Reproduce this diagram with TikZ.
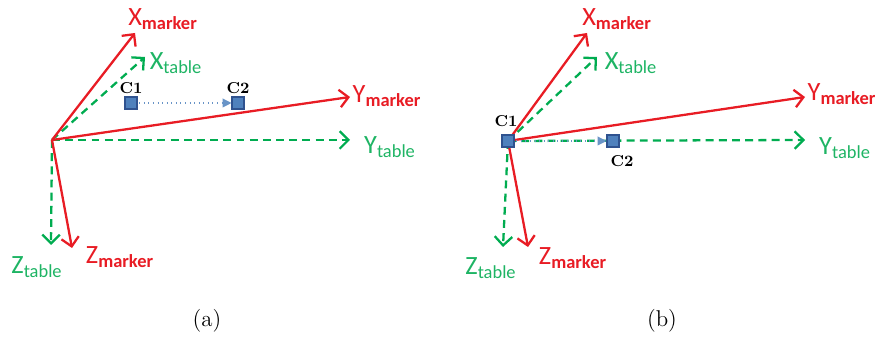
\documentclass[tikz,border=0pt]{standalone}
\usepackage{fontspec}
\usepackage{tikz}
\usetikzlibrary{arrows.meta}
\newfontfamily\axfont{Carlito}
\definecolor{axred}{RGB}{232, 28, 36}
\definecolor{axgreen}{RGB}{0, 172, 80}
\definecolor{txgreen}{RGB}{30, 180, 100}
\definecolor{ptblue}{RGB}{79, 129, 189}
\definecolor{ptedge}{RGB}{47, 82, 143}

\begin{document}
\begin{tikzpicture}[
    markerax/.style={-{Straight Barb[length=5pt, width=10pt]}, line width=1.3pt, axred},
    tableax/.style={-{Straight Barb[length=5pt, width=10pt]}, line width=1.3pt, axgreen, dash pattern=on 4.5pt off 3pt},
    point/.style={rectangle, draw=ptedge, fill=ptblue, line width=0.6pt, minimum size=0.24cm, inner sep=0pt},
    move/.style={-{Triangle[length=5pt, width=5pt]}, line width=0.6pt, ptblue!85, dotted, shorten <=1pt},
    mlabel/.style={text=axred, font=\axfont\fontsize{15}{16}\selectfont},
    tlabel/.style={text=txgreen, font=\axfont\fontsize{15}{16}\selectfont},
    plabel/.style={font=\fontsize{9}{10}\selectfont\bfseries},
    caption/.style={font=\fontsize{13}{15}\selectfont}
]
\useasboundingbox (0,0) rectangle (17.52,6.82);

% Panel (a) -- frame origin apart from C1
\coordinate (oa) at (1.04, 4.02);
\coordinate (xma) at (2.70, 6.16);
\coordinate (xta) at (2.90, 5.68);
\coordinate (yma) at (7.00, 4.88);
\coordinate (yta) at (7.00, 4.02);
\coordinate (zta) at (1.02, 1.92);
\coordinate (zma) at (1.44, 1.86);

\node[mlabel] (lxma) at (3.26, 6.44) {X\textsubscript{\bfseries marker}};
\node[tlabel] (lxta) at (3.52, 5.56) {X\textsubscript{table}};
\node[mlabel] (lyma) at (7.74, 4.90) {Y\textsubscript{\bfseries marker}};
\node[tlabel] (lyta) at (7.80, 3.88) {Y\textsubscript{table}};
\node[tlabel] (lzta) at (0.74, 1.48) {Z\textsubscript{table}};
\node[mlabel] (lzma) at (2.40, 1.68) {Z\textsubscript{\bfseries marker}};

\node[point] (c1a) at (2.62, 4.76) {};
\node[point] (c2a) at (4.76, 4.76) {};
\node[plabel] at (2.62, 5.06) {C1};
\node[plabel] at (4.76, 5.06) {C2};
\draw[move] (c1a) -- (c2a);

\node[caption] (capa) at (4.14, 0.40) {(a)};

% Panel (b) -- frame origin at C1
\coordinate (ob) at (10.16, 4.00);
\coordinate (xmb) at (11.74, 6.16);
\coordinate (xtb) at (11.94, 5.68);
\coordinate (ymb) at (16.10, 4.88);
\coordinate (ytb) at (16.10, 4.02);
\coordinate (ztb) at (10.06, 1.88);
\coordinate (zmb) at (10.56, 1.88);

\node[mlabel] (lxmb) at (12.34, 6.44) {X\textsubscript{\bfseries marker}};
\node[tlabel] (lxtb) at (12.62, 5.56) {X\textsubscript{table}};
\node[mlabel] (lymb) at (16.84, 4.94) {Y\textsubscript{\bfseries marker}};
\node[tlabel] (lytb) at (16.90, 3.86) {Y\textsubscript{table}};
\node[tlabel] (lztb) at (9.82, 1.46) {Z\textsubscript{table}};
\node[mlabel] (lzmb) at (11.46, 1.66) {Z\textsubscript{\bfseries marker}};

\node[caption] (capb) at (13.24, 0.40) {(b)};

% Axes
\foreach \p in {a,b} {
    \draw[tableax] (o\p) -- (xt\p);
    \draw[tableax] (o\p) -- (yt\p);
    \draw[tableax] (o\p) -- (zt\p);
    \draw[markerax] (o\p) -- (xm\p);
    \draw[markerax] (o\p) -- (ym\p);
    \draw[markerax] (o\p) -- (zm\p);
}

% Points of panel (b), on top of the axes
\node[point] (c1b) at (ob) {};
\node[point] (c2b) at (12.26, 4.00) {};
\node[plabel] at (10.12, 4.40) {C1};
\node[plabel] at (12.44, 3.60) {C2};
\draw[move] (c1b) -- (c2b);

\end{tikzpicture}
\end{document}
